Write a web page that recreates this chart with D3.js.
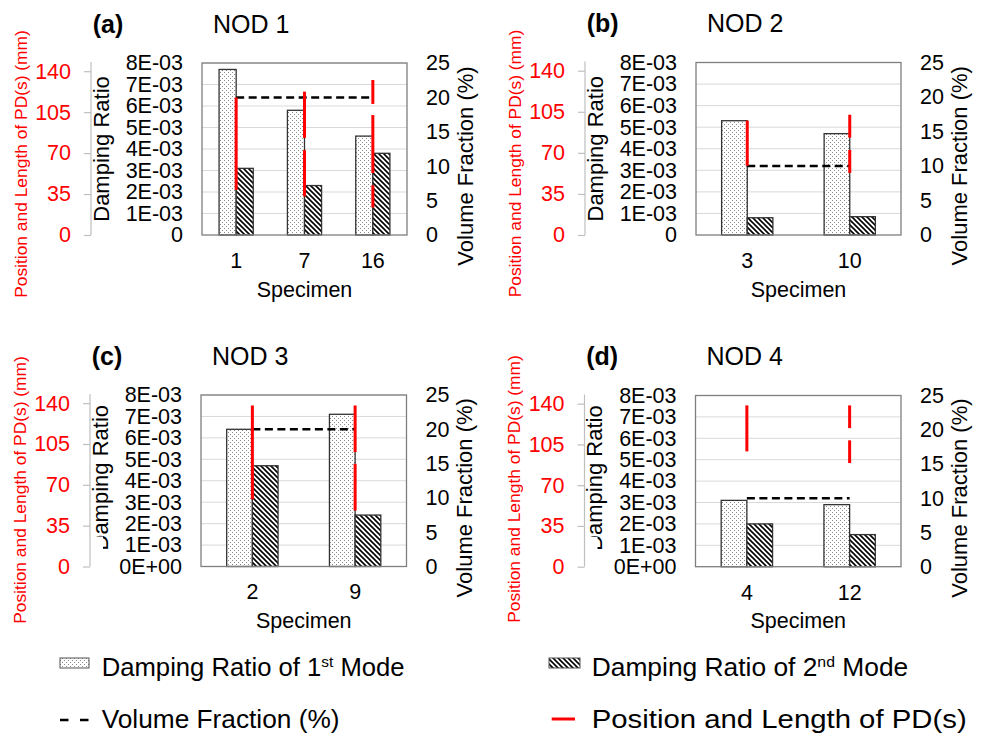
<!DOCTYPE html>
<html>
<head>
<meta charset="utf-8">
<script src="https://cdn.jsdelivr.net/npm/d3@7"></script>
<style>
  body { margin: 0; background: #fff; }
  svg text { font-family: "Liberation Sans", Arial, sans-serif; }
</style>
</head>
<body>
<svg width="983" height="738"></svg>
<script>
// chart values
var panelLabels = ["(a)", "(b)", "(c)", "(d)"];
var panelTitles = ["NOD 1", "NOD 2", "NOD 3", "NOD 4"];
var specimens = [["1", "7", "16"], ["3", "10"], ["2", "9"], ["4", "12"]];
var mode1 = [[7.7e-3, 5.8e-3, 4.6e-3], [5.3e-3, 4.7e-3], [6.4e-3, 7.1e-3], [3.1e-3, 2.9e-3]];
var mode2 = [[3.1e-3, 2.3e-3, 3.8e-3], [0.8e-3, 0.85e-3], [4.7e-3, 2.4e-3], [2.0e-3, 1.5e-3]];
var volumeFraction = [[20, 20, 20], [10, 10], [20, 20], [10, 10]];
// position and length of PD(s) in mm: [from, to] per segment
var pdSegments = [
  [[[38.5, 117.5]], [[33, 72.5], [83, 122.5]], [[23.5, 42.5], [53, 102.5], [112, 132.5]]],
  [[[59, 97.5]], [[53, 72.5], [83, 102.5]]],
  [[[57.5, 138]], [[48, 88], [98, 138]]],
  [[[99, 138.5]], [[89, 108.5], [119, 138.5]]]
];

var drTicks = [0, 1e-3, 2e-3, 3e-3, 4e-3, 5e-3, 6e-3, 7e-3, 8e-3];
var drTickLabels = ["0", "1E-03", "2E-03", "3E-03", "4E-03", "5E-03", "6E-03", "7E-03", "8E-03"];
var drTickLabelsSci = ["0E+00", "1E-03", "2E-03", "3E-03", "4E-03", "5E-03", "6E-03", "7E-03", "8E-03"];
var pdTicks = [0, 35, 70, 105, 140];
var vfTicks = [0, 5, 10, 15, 20, 25];

var legendLabels = ["Damping Ratio of 1", "Damping Ratio of 2", "Volume Fraction (%)", "Position and Length of PD(s)"];
var legendSup = ["st", "nd"];

// layout of the four panels
var layout = [
  {x0: 202, x1: 407, y0: 63, y1: 235, pdTitleY: 164, drDy: 0, sci: false},
  {x0: 696, x1: 901, y0: 62.5, y1: 235, pdTitleY: 163.5, drDy: 0, sci: false},
  {x0: 201, x1: 406.5, y0: 395, y1: 566.5, pdTitleY: 490, drDy: -3, sci: true},
  {x0: 695.5, x1: 901, y0: 395.5, y1: 566.7, pdTitleY: 489, drDy: -3, sci: true}
];

var font = "'Liberation Sans', Arial, sans-serif";
var red = "#ff0000";

var svg = d3.select("svg");
var defs = svg.append("defs");

var dots = defs.append("pattern")
  .attr("id", "dots")
  .attr("patternUnits", "userSpaceOnUse")
  .attr("width", 4).attr("height", 4);
dots.append("rect").attr("width", 4).attr("height", 4).attr("fill", "#fff");
dots.append("rect").attr("x", 0).attr("y", 0).attr("width", 1).attr("height", 1).attr("fill", "#8a8a8a");
dots.append("rect").attr("x", 2).attr("y", 2).attr("width", 1).attr("height", 1).attr("fill", "#8a8a8a");

var hatch = defs.append("pattern")
  .attr("id", "hatch")
  .attr("patternUnits", "userSpaceOnUse")
  .attr("width", 5).attr("height", 5);
hatch.append("rect").attr("width", 5).attr("height", 5).attr("fill", "#fff");
hatch.append("path")
  .attr("d", "M0,0L5,5M-1,4L1,6M4,-1L6,1")
  .attr("stroke", "#000")
  .attr("stroke-width", 1.6);

var drawPanel = function(i) {
  var L = layout[i];
  var specs = specimens[i];
  var g = svg.append("g").classed("panel", true);

  var x = d3.scaleBand().domain(specs).range([L.x0, L.x1]).padding(0);
  var bw = x.bandwidth();
  var xInner = d3.scaleBand().domain(["m1", "m2"]).range([0, bw]).paddingInner(0).paddingOuter(1);

  var yDR = d3.scaleLinear().domain([0, 8e-3]).range([L.y1, L.y0]);
  var yVF = d3.scaleLinear().domain([0, 25]).range([L.y1, L.y0]);
  var yPD = d3.scaleLinear().domain([0, 147]).range([L.y1, L.y0]);

  // gridlines
  g.append("g").selectAll("line")
    .data(drTicks.slice(1))
    .enter().append("line")
    .attr("x1", L.x0).attr("x2", L.x1)
    .attr("y1", function(d) { return yDR(d); })
    .attr("y2", function(d) { return yDR(d); })
    .attr("stroke", "#d9d9d9")
    .attr("stroke-width", 1);

  var rows = specs.map(function(s, j) {
    return {spec: s, m1: mode1[i][j], m2: mode2[i][j], vf: volumeFraction[i][j], pd: pdSegments[i][j]};
  });

  // bars
  var bars = g.append("g");
  bars.selectAll("rect.m1")
    .data(rows).enter().append("rect")
    .classed("m1", true)
    .attr("x", function(d) { return x(d.spec) + xInner("m1"); })
    .attr("y", function(d) { return yDR(d.m1); })
    .attr("width", xInner.bandwidth())
    .attr("height", function(d) { return L.y1 - yDR(d.m1); })
    .attr("fill", "url(#dots)")
    .attr("stroke", "#333")
    .attr("stroke-width", 1.3);
  bars.selectAll("rect.m2")
    .data(rows).enter().append("rect")
    .classed("m2", true)
    .attr("x", function(d) { return x(d.spec) + xInner("m2"); })
    .attr("y", function(d) { return yDR(d.m2); })
    .attr("width", xInner.bandwidth())
    .attr("height", function(d) { return L.y1 - yDR(d.m2); })
    .attr("fill", "url(#hatch)")
    .attr("stroke", "#333")
    .attr("stroke-width", 1.3);

  // volume fraction (dashed)
  var line = d3.line()
    .x(function(d) { return x(d.spec) + bw / 2; })
    .y(function(d) { return yVF(d.vf); });
  g.append("path")
    .datum(rows)
    .attr("d", line)
    .attr("fill", "none")
    .attr("stroke", "#000")
    .attr("stroke-width", 2.5)
    .attr("stroke-dasharray", "8,4.5");

  // PD segments
  var segs = [];
  rows.forEach(function(r) {
    r.pd.forEach(function(p) { segs.push({spec: r.spec, a: p[0], b: p[1]}); });
  });
  g.append("g").selectAll("line")
    .data(segs).enter().append("line")
    .attr("x1", function(d) { return x(d.spec) + bw / 2; })
    .attr("x2", function(d) { return x(d.spec) + bw / 2; })
    .attr("y1", function(d) { return yPD(d.a); })
    .attr("y2", function(d) { return yPD(d.b); })
    .attr("stroke", red)
    .attr("stroke-width", 3);

  // plot border
  g.append("rect")
    .attr("x", L.x0).attr("y", L.y0)
    .attr("width", L.x1 - L.x0).attr("height", L.y1 - L.y0)
    .attr("fill", "none")
    .attr("stroke", "#7f7f7f")
    .attr("stroke-width", 1.3);

  // damping ratio axis
  var labels = L.sci ? drTickLabelsSci : drTickLabels;
  var drAxis = g.append("g")
    .attr("transform", "translate(" + L.x0 + ",0)")
    .call(d3.axisLeft(yDR).tickValues(drTicks)
      .tickFormat(function(d, k) { return labels[k]; })
      .tickSize(0).tickPadding(19));
  drAxis.select(".domain").remove();
  drAxis.attr("font-size", 21.5).attr("font-family", font).attr("color", "#000");

  // volume fraction axis
  var vfAxis = g.append("g")
    .attr("transform", "translate(" + L.x1 + ",0)")
    .call(d3.axisRight(yVF).tickValues(vfTicks).tickSize(0).tickPadding(19));
  vfAxis.select(".domain").remove();
  vfAxis.attr("font-size", 21.5).attr("font-family", font).attr("color", "#000");

  // PD axis (red labels, grey line)
  var pdX = L.x0 - 111;
  var pdAxis = g.append("g")
    .attr("transform", "translate(" + pdX + ",0)")
    .call(d3.axisLeft(yPD).tickValues(pdTicks).tickSizeOuter(0).tickSizeInner(7).tickPadding(13));
  pdAxis.attr("font-size", 21.5).attr("font-family", font);
  pdAxis.select(".domain").attr("stroke", "#bfbfbf").attr("stroke-width", 1.2)
    .attr("d", "M0," + (L.y0 - 1) + "V" + L.y1);
  pdAxis.selectAll(".tick line").attr("stroke", "#bfbfbf").attr("stroke-width", 1.2);
  pdAxis.selectAll(".tick text").attr("fill", red);

  // specimen axis
  var xAxis = g.append("g")
    .attr("transform", "translate(0," + L.y1 + ")")
    .call(d3.axisBottom(x).tickSize(0).tickPadding(17.7));
  xAxis.select(".domain").remove();
  xAxis.attr("font-size", 21.5).attr("font-family", font).attr("color", "#000");

  g.append("text")
    .attr("x", (L.x0 + L.x1) / 2)
    .attr("y", L.y1 + 61.5)
    .attr("text-anchor", "middle")
    .attr("font-size", 21.5)
    .attr("fill", "#000")
    .text("Specimen");

  // axis titles
  var mid = (L.y0 + L.y1) / 2;
  var drHolder = g.append("g");
  drHolder.append("text")
    .attr("transform", "translate(" + (L.x0 - 93.5) + "," + (mid + L.drDy) + ") rotate(-90)")
    .attr("text-anchor", "middle")
    .attr("font-size", 22)
    .attr("fill", "#000")
    .text("Damping Ratio");
  if (L.sci) {
    // the first letter is partly hidden behind the tick label area
    var cid = "clipD" + i;
    var cp = defs.append("clipPath").attr("id", cid);
    cp.append("rect").attr("x", L.x0 - 140).attr("y", L.y0 - 40).attr("width", 100).attr("height", L.y1 - 30 - L.y0 + 40);
    cp.append("rect").attr("x", L.x0 - 98).attr("y", L.y1 - 31).attr("width", 30).attr("height", 60);
    drHolder.attr("clip-path", "url(#" + cid + ")");
  }

  g.append("text")
    .attr("transform", "translate(" + (L.x1 + 65.5) + "," + (mid + 17) + ") rotate(-90)")
    .attr("text-anchor", "middle")
    .attr("font-size", 22)
    .attr("fill", "#000")
    .text("Volume Fraction (%)");

  g.append("text")
    .attr("transform", "translate(" + (pdX - 64.5) + "," + L.pdTitleY + ") rotate(-90)")
    .attr("text-anchor", "middle")
    .attr("font-size", 17.4)
    .attr("fill", red)
    .text("Position and Length of PD(s) (mm)");

  // panel heading
  g.append("text")
    .attr("x", L.x0 - 109.3)
    .attr("y", L.y0 - 30.5)
    .attr("font-size", 25)
    .attr("font-weight", "bold")
    .attr("fill", "#000")
    .text(panelLabels[i]);
  g.append("text")
    .attr("x", L.x0 + 11)
    .attr("y", L.y0 - 30.5)
    .attr("font-size", 25)
    .attr("fill", "#000")
    .text(panelTitles[i]);
};

for (var i = 0; i < 4; i++) drawPanel(i);

// legend
var legend = svg.append("g").classed("legend", true);

var legendText = function(x, y, target, main, sup, tail) {
  var lg = legend.append("g");
  var t = lg.append("text").attr("x", 0).attr("y", 0).attr("font-size", 25).attr("fill", "#000");
  t.append("tspan").text(main);
  if (sup) {
    t.append("tspan").attr("font-size", 15).attr("dy", -9).text(sup);
    t.append("tspan").attr("font-size", 25).attr("dy", 9).text(tail);
  }
  var w = t.node().getBBox().width;
  lg.attr("transform", "translate(" + x + "," + y + ") scale(" + (target / w) + ",1)");
};

legend.append("rect")
  .attr("x", 60).attr("y", 658).attr("width", 29).attr("height", 10)
  .attr("fill", "url(#dots)").attr("stroke", "#555").attr("stroke-width", 1);
legendText(101.7, 675.7, 303, legendLabels[0], legendSup[0], " Mode");

legend.append("rect")
  .attr("x", 549).attr("y", 658).attr("width", 31).attr("height", 10)
  .attr("fill", "url(#hatch)").attr("stroke", "#555").attr("stroke-width", 1);
legendText(591.7, 675.7, 316.6, legendLabels[1], legendSup[1], " Mode");

legend.append("path")
  .attr("d", "M60,720H88.5")
  .attr("stroke", "#000").attr("stroke-width", 2.5)
  .attr("stroke-dasharray", "8.5,11.5");
legendText(101.7, 728.3, 238, legendLabels[2]);

legend.append("path")
  .attr("d", "M551.7,719H575")
  .attr("stroke", red).attr("stroke-width", 3);
legendText(591.7, 728.3, 375, legendLabels[3]);
</script>
</body>
</html>
